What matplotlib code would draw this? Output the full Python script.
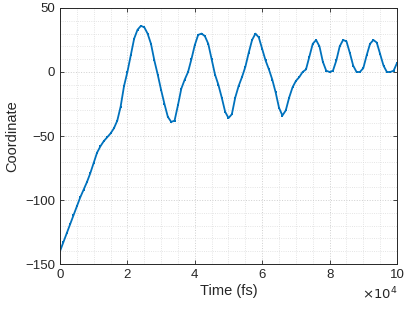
import numpy as np
import matplotlib
matplotlib.use("Agg")
import matplotlib.pyplot as plt

# time in units of 1e4 fs, coordinate
t = np.round(np.arange(0, 101) * 0.1, 1)
coord = [
    -140, -133, -126, -119, -112, -105, -98, -92, -86, -79,
    -71, -63, -58, -54, -51, -48, -44, -38, -27, -11,
    0, 13, 26, 33, 36, 35, 30, 22, 9, -2,
    -14, -25, -35, -39, -38, -26, -13, -6, 0, 10,
    21, 29, 30, 28, 22, 10, -2, -10, -20, -31,
    -36, -33, -20, -11, -4, 4, 15, 25, 30, 27,
    18, 9, 2, -6, -16, -28, -34, -30, -20, -12,
    -7, -4, 0, 2, 12, 22, 25, 20, 8, 1,
    0, 1, 9, 20, 25, 24, 15, 5, 0, 0,
    3, 13, 22, 25, 23, 14, 5, 0, 0, 1,
    7,
]

plt.rcParams['font.family'] = ['Liberation Sans', 'DejaVu Sans']

fig = plt.figure(figsize=(4.07, 3.11), dpi=100)
ax = fig.add_axes([0.1474, 0.1511, 0.828, 0.8232])

ax.plot(t, coord, color='#0072BD', linewidth=1.3, marker='s', markersize=1.8,
        markeredgewidth=0)

ax.set_xlim(0, 10)
ax.set_ylim(-150, 50)
ax.set_xticks([0, 2, 4, 6, 8, 10])
ax.set_yticks([-150, -100, -50, 0, 50])
ax.set_xticks(np.arange(0, 10.01, 0.5), minor=True)
ax.set_yticks(np.arange(-150, 50.1, 10), minor=True)
ax.tick_params(which='both', direction='in', top=True, right=True,
               colors='#262626', labelsize=9.5, labelcolor='#262626')
ax.tick_params(which='major', length=3, width=0.6)
ax.tick_params(which='minor', length=0)
ax.grid(True, which='major', color='#cfcfcf', linestyle=':', linewidth=0.7)
ax.grid(True, which='minor', color='#dcdcdc', linestyle=':', linewidth=0.6)
for s in ax.spines.values():
    s.set_color('#262626')
    s.set_linewidth(0.7)

ax.set_xlabel('Time (fs)', fontsize=10.5, color='#262626', labelpad=2)
ax.set_ylabel('Coordinate', fontsize=10.5, color='#262626', labelpad=4)
ax.text(1.0, -0.085, r'$\times10^{4}$', transform=ax.transAxes, ha='right',
        va='top', fontsize=9.5, color='#262626')

fig.savefig('out.png', dpi=100)
